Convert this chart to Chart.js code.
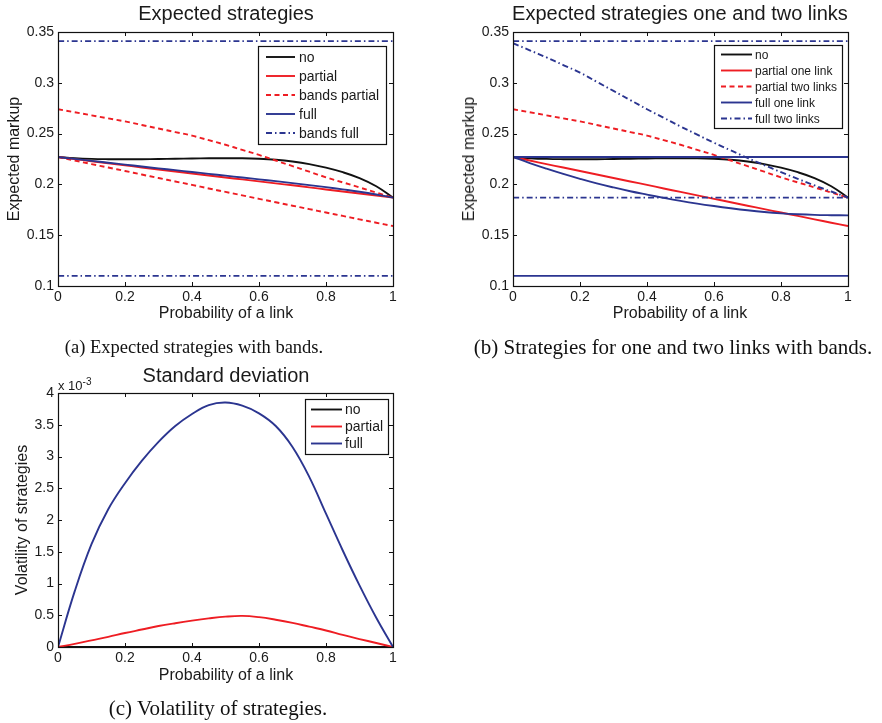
<!DOCTYPE html>
<html>
<head>
<meta charset="utf-8">
<script src="https://cdn.jsdelivr.net/npm/chart.js@4.4.0/dist/chart.umd.min.js"></script>
<style>
  html, body { margin: 0; padding: 0; background: #fff; }
  body { width: 882px; height: 723px; position: relative; overflow: hidden;
         font-family: "Liberation Sans", Arial, sans-serif; color: #1a1a1a; }
  canvas { position: absolute; }
  .t { position: absolute; white-space: nowrap; transform: translate(-50%, -50%); }
  .title { font-size: 20px; }
  .axt { font-size: 16px; }
  .yt { font-size: 16px; transform: translate(-50%, -50%) rotate(-90deg); }
  .cap { font-family: "Liberation Serif", "Times New Roman", serif; font-size: 21px; color: #111; }
  .exp { position: absolute; font-size: 13px; white-space: nowrap; }
  .exp sup { font-size: 10px; }
</style>
</head>
<body>
<canvas id="ca" width="440" height="310" style="left:0;top:0"></canvas>
<canvas id="cb" width="442" height="310" style="left:440px;top:0"></canvas>
<canvas id="cc" width="440" height="310" style="left:0;top:360px"></canvas>

<div class="t title" style="left:226px;top:13px">Expected strategies</div>
<div class="t title" style="left:680px;top:13px">Expected strategies one and two links</div>
<div class="t title" style="left:226px;top:375px">Standard deviation</div>

<div class="t axt" style="left:226px;top:313px">Probability of a link</div>
<div class="t axt" style="left:680px;top:313px">Probability of a link</div>
<div class="t axt" style="left:226px;top:675px">Probability of a link</div>

<div class="t yt" style="left:14px;top:159px">Expected markup</div>
<div class="t yt" style="left:469px;top:159px">Expected markup</div>
<div class="t yt" style="left:22px;top:520px">Volatility of strategies</div>

<div class="exp" style="left:58px;top:376px">x 10<sup>-3</sup></div>

<div class="t cap" style="left:194px;top:347px;font-size:18.5px">(a) Expected strategies with bands.</div>
<div class="t cap" style="left:673px;top:347px">(b) Strategies for one and two links with bands.</div>
<div class="t cap" style="left:218px;top:708px">(c) Volatility of strategies.</div>

<script>
// probability of a link (x grid)
const probLink = [0, 0.05, 0.1, 0.15, 0.2, 0.25, 0.3, 0.35, 0.4, 0.45, 0.5,
                  0.55, 0.6, 0.65, 0.7, 0.75, 0.8, 0.85, 0.9, 0.95, 1];

// expected markup
const markupNo      = [0.2270, 0.2258, 0.2251, 0.2248, 0.2247, 0.2248, 0.2250, 0.2252, 0.2255, 0.2257, 0.2258,
                       0.2257, 0.2252, 0.2242, 0.2225, 0.2200, 0.2165, 0.2120, 0.2062, 0.1982, 0.1870];
const markupPartial = [0.2270, 0.2249, 0.2228, 0.2208, 0.2187, 0.2167, 0.2147, 0.2127, 0.2107, 0.2087, 0.2068,
                       0.2049, 0.2030, 0.2010, 0.1991, 0.1971, 0.1950, 0.1930, 0.1910, 0.1890, 0.1870];
const markupFull    = [0.2270, 0.2251, 0.2232, 0.2213, 0.2195, 0.2176, 0.2158, 0.2140, 0.2122, 0.2104, 0.2086,
                       0.2068, 0.2050, 0.2032, 0.2013, 0.1993, 0.1973, 0.1951, 0.1928, 0.1901, 0.1870];
// upper partial band = partial two links, lower partial band = partial one link
const partialTwoLinks = [0.2740, 0.2710, 0.2680, 0.2650, 0.2620, 0.2585, 0.2550, 0.2515, 0.2480, 0.2435, 0.2390,
                         0.2340, 0.2290, 0.2235, 0.2180, 0.2125, 0.2070, 0.2020, 0.1970, 0.1920, 0.1870];
const partialOneLink  = [0.2270, 0.2235, 0.2200, 0.2166, 0.2132, 0.2097, 0.2063, 0.2029, 0.1995, 0.1960, 0.1926,
                         0.1892, 0.1858, 0.1824, 0.1790, 0.1757, 0.1723, 0.1690, 0.1656, 0.1623, 0.1590];
const fullOneLink     = [0.2270, 0.2210, 0.2155, 0.2103, 0.2055, 0.2010, 0.1970, 0.1933, 0.1900, 0.1868, 0.1838,
                         0.1811, 0.1787, 0.1765, 0.1745, 0.1728, 0.1715, 0.1706, 0.1700, 0.1697, 0.1695];
const fullTwoLinks    = [0.3390, 0.3320, 0.3250, 0.3175, 0.3100, 0.3010, 0.2920, 0.2830, 0.2740, 0.2655, 0.2570,
                         0.2490, 0.2410, 0.2335, 0.2260, 0.2190, 0.2120, 0.2055, 0.1990, 0.1930, 0.1870];
const bandFullHigh = 0.341;
const bandFullLow = 0.110;
const fullOneLinkHigh = 0.227;
const fullOneLinkLow = 0.110;
const fullTwoLinksHigh = 0.341;
const fullTwoLinksLow = 0.187;

// volatility (x 10^-3)
const volNo      = [0, 0, 0, 0, 0, 0, 0, 0, 0, 0, 0, 0, 0, 0, 0, 0, 0, 0, 0, 0, 0];
const volPartial = [0, 0.050, 0.105, 0.160, 0.220, 0.275, 0.330, 0.375, 0.415, 0.450, 0.478,
                    0.490, 0.470, 0.430, 0.380, 0.320, 0.260, 0.190, 0.125, 0.063, 0];
const volFull    = [0, 0.88, 1.62, 2.17, 2.58, 2.93, 3.23, 3.48, 3.67, 3.81, 3.85,
                    3.80, 3.68, 3.48, 3.15, 2.68, 2.10, 1.52, 0.97, 0.46, 0];

const probTicks = [0, 0.2, 0.4, 0.6, 0.8, 1];
const markupTicks = [0.1, 0.15, 0.2, 0.25, 0.3, 0.35];
const volTicks = [0, 0.5, 1, 1.5, 2, 2.5, 3, 3.5, 4];

const RED = '#ee1d23', BLUE = '#2b3590', BLACK = '#111111';
const DASH = [5, 3.5];
const DASHDOT = [6, 3, 1.5, 3];
const FONT = '"Liberation Sans", Arial, sans-serif';

const pts = ys => probLink.map((x, i) => ({ x, y: ys[i] }));
const flat = v => [{ x: 0, y: v }, { x: 1, y: v }];

function line(label, data, color, dash) {
  return { label, data, borderColor: color, borderWidth: 1.9, borderDash: dash || [],
           pointRadius: 0, fill: false, tension: 0.4 };
}

// frame and inward ticks on all four sides, MATLAB style
const frameTicks = {
  id: 'frameTicks',
  afterDatasetsDraw(chart) {
    const { ctx, chartArea: a, scales: { x, y } } = chart;
    const L = 4;
    ctx.save();
    ctx.strokeStyle = '#111';
    ctx.lineWidth = 1;
    ctx.beginPath();
    x.ticks.forEach(t => {
      const px = Math.round(x.getPixelForValue(t.value)) + 0.5;
      ctx.moveTo(px, a.bottom); ctx.lineTo(px, a.bottom - L);
      ctx.moveTo(px, a.top); ctx.lineTo(px, a.top + L);
    });
    y.ticks.forEach(t => {
      const py = Math.round(y.getPixelForValue(t.value)) + 0.5;
      ctx.moveTo(a.left, py); ctx.lineTo(a.left + L, py);
      ctx.moveTo(a.right, py); ctx.lineTo(a.right - L, py);
    });
    ctx.stroke();
    ctx.lineWidth = 1.2;
    ctx.strokeRect(Math.round(a.left) + 0.5, Math.round(a.top) + 0.5,
                   Math.round(a.right - a.left), Math.round(a.bottom - a.top));
    ctx.restore();
  }
};

// boxed legend inside the plot
const boxLegend = {
  id: 'boxLegend',
  afterDraw(chart, args, o) {
    if (!o || !o.items) return;
    const { ctx } = chart;
    const ds = chart.data.datasets;
    ctx.save();
    ctx.fillStyle = '#fff';
    ctx.fillRect(o.x, o.y, o.w, o.h);
    ctx.strokeStyle = '#111';
    ctx.lineWidth = 1.2;
    ctx.strokeRect(o.x + 0.5, o.y + 0.5, o.w, o.h);
    ctx.font = o.size + 'px ' + FONT;
    ctx.textBaseline = 'middle';
    o.items.forEach((idx, i) => {
      const d = ds[idx];
      const yy = o.y0 + i * o.step;
      ctx.setLineDash(d.borderDash || []);
      ctx.strokeStyle = d.borderColor;
      ctx.lineWidth = d.borderWidth;
      ctx.beginPath();
      ctx.moveTo(o.lx0, yy); ctx.lineTo(o.lx1, yy);
      ctx.stroke();
      ctx.setLineDash([]);
      ctx.fillStyle = '#1a1a1a';
      ctx.fillText(d.label, o.tx, yy + 1);
    });
    ctx.restore();
  }
};

function scales(yMin, yMax, yTicks, yWidth, xHeight) {
  const tickFont = { family: FONT, size: 14 };
  return {
    x: {
      type: 'linear', min: 0, max: 1,
      grid: { display: false, drawTicks: false }, border: { display: false },
      afterBuildTicks: s => { s.ticks = probTicks.map(v => ({ value: v })); },
      afterFit: s => { s.height = xHeight; s.paddingLeft = 0; s.paddingRight = 0; },
      ticks: { font: tickFont, color: '#1a1a1a', padding: 3, maxRotation: 0, callback: v => String(v) }
    },
    y: {
      type: 'linear', min: yMin, max: yMax,
      grid: { display: false, drawTicks: false }, border: { display: false },
      afterBuildTicks: s => { s.ticks = yTicks.map(v => ({ value: v })); },
      afterFit: s => { s.width = yWidth; s.paddingTop = 0; s.paddingBottom = 0; },
      ticks: { font: tickFont, color: '#1a1a1a', padding: 4, callback: v => String(v) }
    }
  };
}

function make(id, datasets, sc, padding, legend) {
  datasets.forEach((d, i) => { d.order = -i; });
  return new Chart(document.getElementById(id), {
    type: 'line',
    data: { datasets },
    options: {
      responsive: false, animation: false,
      layout: { padding },
      scales: sc,
      plugins: { legend: { display: false }, tooltip: { enabled: false }, boxLegend: legend }
    },
    plugins: [frameTicks, boxLegend]
  });
}

// (a) Expected strategies
make('ca', [
  line('no', pts(markupNo), BLACK),
  line('partial', pts(markupPartial), RED),
  line('bands partial', pts(partialTwoLinks), RED, DASH),
  line('bands partial', pts(partialOneLink), RED, DASH),
  line('full', pts(markupFull), BLUE),
  line('bands full', flat(bandFullHigh), BLUE, DASHDOT),
  line('bands full', flat(bandFullLow), BLUE, DASHDOT)
], scales(0.1, 0.35, markupTicks, 58, 24), { left: 0, top: 32, right: 47, bottom: 0 },
{ items: [0, 1, 2, 4, 5], x: 258, y: 46, w: 128, h: 98, y0: 57, step: 19, lx0: 266, lx1: 295, tx: 299, size: 14 });

// (b) Expected strategies one and two links
make('cb', [
  line('no', pts(markupNo), BLACK),
  line('partial one link', pts(partialOneLink), RED),
  line('partial two links', pts(partialTwoLinks), RED, DASH),
  line('full one link', pts(fullOneLink), BLUE),
  line('full one link', flat(fullOneLinkHigh), BLUE),
  line('full one link', flat(fullOneLinkLow), BLUE),
  line('full two links', pts(fullTwoLinks), BLUE, DASHDOT),
  line('full two links', flat(fullTwoLinksHigh), BLUE, DASHDOT),
  line('full two links', flat(fullTwoLinksLow), BLUE, DASHDOT)
], scales(0.1, 0.35, markupTicks, 73, 24), { left: 0, top: 32, right: 34, bottom: 0 },
{ items: [0, 1, 2, 3, 6], x: 274, y: 45, w: 128, h: 83, y0: 54.5, step: 16, lx0: 281, lx1: 312, tx: 315, size: 12 });

// (c) Standard deviation
make('cc', [
  line('no', pts(volNo), BLACK),
  line('partial', pts(volPartial), RED),
  line('full', pts(volFull), BLUE)
], scales(0, 4, volTicks, 58, 23), { left: 0, top: 33, right: 47, bottom: 0 },
{ items: [0, 1, 2], x: 305, y: 39, w: 83, h: 55, y0: 49.5, step: 17, lx0: 311, lx1: 342, tx: 345, size: 14 });
</script>
</body>
</html>
